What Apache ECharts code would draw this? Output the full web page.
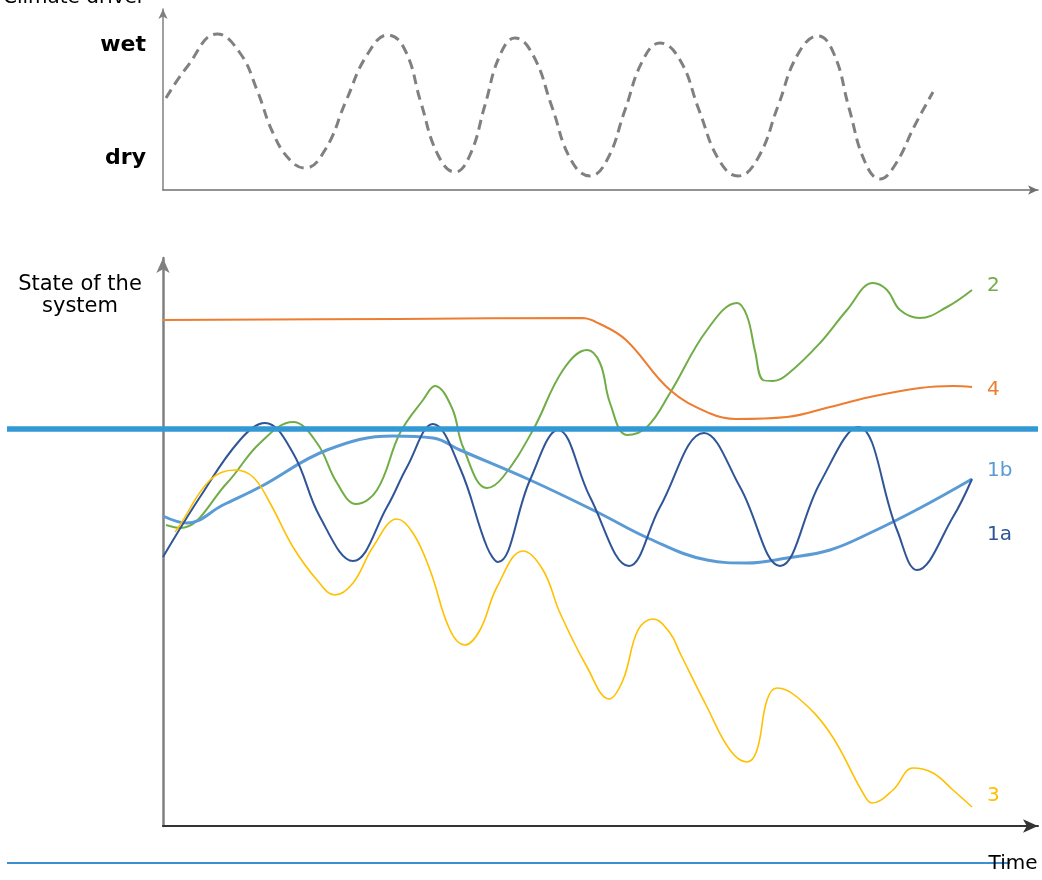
<!DOCTYPE html>
<html>
<head>
<meta charset="utf-8">
<script src="https://cdn.jsdelivr.net/npm/echarts@6/dist/echarts.min.js"></script>
<style>
html,body{margin:0;padding:0;background:#fff;}
#chart{width:1042px;height:880px;}
</style>
</head>
<body>
<div id="chart"></div>
<script>
// ---- Data (time in arbitrary units, state in arbitrary units) ----
const timeMax = 87.5;
const driverMax = 18.1;
const stateMax = 56.8;
const driverTicks = { wet: 14.5, dry: 3.2 };
const thresholdLevel = 39.7;

const climateDriver = [
  [0.3,9.2],[2.4,12.3],[5.4,15.6],[7.7,13.7],[9.4,10.0],[11.0,5.7],[12.7,3.0],[14.2,2.2],
  [16.2,4.0],[18.3,8.9],[20.4,13.5],[22.5,15.5],
  [24.2,14.0],[25.8,8.7],[27.5,3.5],[29.2,1.8],
  [30.7,3.5],[32.2,8.5],[33.7,13.5],[35.2,15.2],
  [37.0,13.5],[38.9,8.3],[40.8,3.0],[42.7,1.4],
  [44.4,3.0],[46.2,8.0],[48.0,13.0],[49.7,14.7],
  [51.7,13.0],[53.6,8.0],[55.6,3.0],[57.5,1.4],
  [59.5,3.2],[61.5,8.4],[63.5,13.6],[65.5,15.4],
  [67.1,13.6],[68.6,8.2],[70.2,2.8],[71.7,1.1],
  [73.2,2.5],[75.2,6.5],[77.0,9.8]
];

const series1a = [
  [0.0,26.9],[3.7,32.9],[7.7,38.6],[10.2,40.3],[13.0,37.3],[15.7,30.9],[19.0,26.5],
  [22.4,31.9],[24.4,35.9],[27.0,40.2],[29.7,35.8],[32.4,27.9],[33.5,26.4],
  [36.7,34.6],[39.5,39.6],[42.7,32.9],[46.6,26.0],[49.7,31.9],[54.1,39.3],
  [57.7,33.9],[61.7,26.0],[65.7,34.3],[69.5,39.9],[73.4,29.6],[75.4,25.6],
  [79.0,30.9],[80.9,34.7]
];

const series1b = [
  [0.0,31.0],[2.4,30.3],[6.0,32.1],[9.7,33.9],[16.4,37.6],[23.0,39.0],[27.0,38.8],
  [29.7,37.6],[36.7,34.6],[43.4,31.4],[48.7,28.7],[54.4,26.6],[58.4,26.3],
  [62.4,26.8],[66.7,27.6],[70.7,29.3],[75.7,31.8],[80.9,34.7]
];

const series2 = [
  [0.3,30.1],[1.7,29.8],[6.4,34.3],[9.7,38.3],[13.0,40.4],[15.4,38.3],[17.4,34.3],
  [19.3,32.2],[21.4,33.6],[23.7,39.3],[26.0,42.6],[27.2,44.0],[28.9,41.8],[30.0,37.9],
  [32.4,33.8],[34.0,34.9],[37.0,39.6],[40.0,45.6],[42.4,47.6],[43.7,46.3],[44.7,42.3],
  [46.4,39.1],[48.4,39.9],[50.7,43.3],[54.4,49.6],[57.4,52.3],[58.4,51.0],[59.2,47.5],[60.0,44.6],
  [61.0,44.5],[62.6,45.3],[65.7,48.3],[68.4,51.6],[71.0,54.3],[72.4,53.6],[73.7,51.6],[75.7,50.8],
  [78.4,51.9],[80.9,53.6]
];

const series3 = [
  [1.2,29.4],[1.7,30.1],[4.7,34.6],[7.2,35.6],[9.0,34.9],[10.7,32.3],[13.0,27.9],
  [15.4,24.6],[17.2,23.1],[19.0,24.3],[21.0,27.9],[23.4,30.7],[25.0,29.3],[26.7,25.6],
  [28.7,19.6],[30.2,18.1],[31.7,19.6],[33.4,23.9],[36.0,27.5],[38.0,25.6],[39.7,21.3],
  [42.4,15.9],[44.6,12.7],[46.0,14.6],[47.5,19.6],[49.0,20.7],[50.7,19.3],[51.7,17.3],
  [54.4,11.9],[56.7,7.6],[58.4,6.4],[59.4,7.6],[60.4,12.6],[61.4,13.8],[63.4,12.9],
  [66.7,9.3],[70.0,3.3],[70.9,2.3],[73.0,3.6],[75.0,5.8],[77.0,5.3],[79.0,3.6],[80.9,1.9]
];

const series4 = [
  [0.0,50.6],[23.7,50.7],[41.9,50.8],[43.7,50.2],[46.3,48.6],[50.7,43.6],[54.6,41.3],
  [57.3,40.7],[62.4,40.9],[66.7,41.9],[70.7,42.9],[75.7,43.8],[79.0,44.0],[80.9,43.9]
];

const threshold = [[0, thresholdLevel],[1, thresholdLevel]];

const FONT = 'DejaVu Sans';

function lineSeries(name, data, color, width, dy) {
  return {
    type: 'line', name: name, xAxisIndex: 1, yAxisIndex: 1,
    data: data, smooth: 0.4, showSymbol: false, symbol: 'none',
    lineStyle: { color: color, width: width },
    itemStyle: { color: color },
    endLabel: {
      show: true, formatter: name, color: color, fontFamily: FONT, fontSize: 20,
      distance: 15, offset: [0, dy]
    },
    emphasis: { disabled: true },
    z: 2
  };
}

const chart = echarts.init(document.getElementById('chart'), null, { renderer: 'canvas' });

const option = {
  animation: false,
  backgroundColor: '#ffffff',
  grid: [
    { left: 163, right: 4, top: 9, bottom: 690 },
    { left: 163, right: 4, top: 258, bottom: 54 },
    { left: 7, right: 4, top: 258, bottom: 54 }
  ],
  xAxis: [
    { gridIndex: 0, type: 'value', min: 0, max: timeMax,
      axisLine: { show: true, symbol: ['none','arrow'], symbolSize: [7, 10], lineStyle: { color: '#707070', width: 1.5 } },
      axisTick: { show: false }, axisLabel: { show: false }, splitLine: { show: false } },
    { gridIndex: 1, type: 'value', min: 0, max: timeMax,
      axisLine: { show: true, symbol: ['none','arrow'], symbolSize: [10, 15], lineStyle: { color: '#333333', width: 2 } },
      axisTick: { show: false }, axisLabel: { show: false }, splitLine: { show: false } },
    { gridIndex: 2, type: 'value', min: 0, max: 1, show: false }
  ],
  yAxis: [
    { gridIndex: 0, type: 'value', min: 0, max: driverMax, interval: 0.1,
      axisLine: { show: true, symbol: ['none','arrow'], symbolSize: [7, 10], lineStyle: { color: '#808080', width: 1.5 } },
      axisTick: { show: false }, splitLine: { show: false },
      axisLabel: { show: true, interval: 0, margin: 17, color: '#000', fontFamily: FONT, fontSize: 22, fontWeight: 'bold',
        formatter: function (v) {
          if (Math.abs(v - driverTicks.wet) < 0.01) return 'wet';
          if (Math.abs(v - driverTicks.dry) < 0.01) return 'dry';
          return '';
        } } },
    { gridIndex: 1, type: 'value', min: 0, max: stateMax,
      axisLine: { show: true, symbol: ['none','arrow'], symbolSize: [10, 15], lineStyle: { color: '#808080', width: 2.5 } },
      axisTick: { show: false }, axisLabel: { show: false }, splitLine: { show: false } },
    { gridIndex: 2, type: 'value', min: 0, max: stateMax, show: false }
  ],
  series: [
    { type: 'line', name: 'Climate driver', xAxisIndex: 0, yAxisIndex: 0, data: climateDriver,
      smooth: 0.45, showSymbol: false, symbol: 'none',
      lineStyle: { color: '#808080', width: 3, type: [10, 6] }, emphasis: { disabled: true } },
    lineSeries('2', series2, '#70AD47', 2, -4),
    lineSeries('4', series4, '#ED7D31', 2, 3),
    lineSeries('1b', series1b, '#5B9BD5', 3, -8),
    lineSeries('1a', series1a, '#2F5597', 2, 56),
    lineSeries('3', series3, '#FFC000', 1.6, -11),
    { type: 'line', name: 'threshold', xAxisIndex: 2, yAxisIndex: 2, data: threshold,
      showSymbol: false, symbol: 'none', lineStyle: { color: '#3399D4', width: 5.5 },
      emphasis: { disabled: true }, z: 5 }
  ],
  graphic: [
    { type: 'text', x: 74, y: -2, style: { text: 'Climate driver', fill: '#000', font: '20px "DejaVu Sans"', textAlign: 'center', textVerticalAlign: 'middle' } },
    { type: 'text', x: 80, y: 296, style: { text: 'State of the\nsystem', fill: '#000', font: '21px "DejaVu Sans"', lineHeight: 22, textAlign: 'center', textVerticalAlign: 'middle' } },
    { type: 'line', shape: { x1: 7, y1: 863, x2: 1010, y2: 863 }, style: { stroke: '#3A8FD0', lineWidth: 2 }, z: 1 },
    { type: 'text', x: 1013, y: 864, style: { text: 'Time', fill: '#000', font: '20px "DejaVu Sans"', textAlign: 'center', textVerticalAlign: 'middle' }, z: 2 }
  ]
};

chart.setOption(option);
</script>
</body>
</html>
